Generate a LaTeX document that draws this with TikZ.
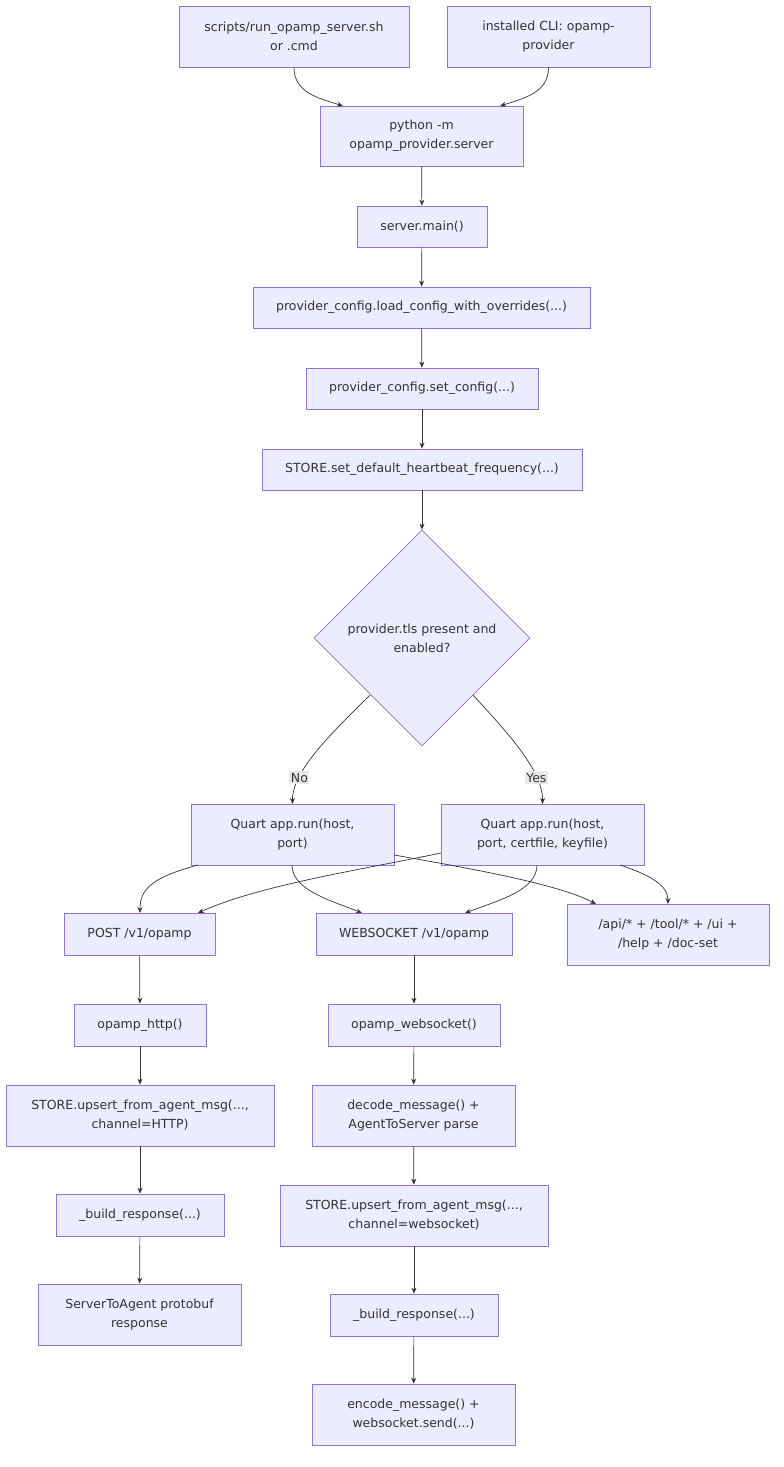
\documentclass[tikz,border=0pt]{standalone}
\usepackage{fontspec}
\setmainfont{DejaVu Sans}
\usetikzlibrary{shapes.geometric,arrows.meta}
\definecolor{nfill}{HTML}{ECECFF}
\definecolor{nline}{HTML}{9370DB}
\definecolor{txt}{HTML}{333333}
\begin{document}
\begin{tikzpicture}[x=1pt,y=-1pt,
  box/.style={draw=nline,fill=nfill,line width=0.8pt,text=txt,align=center,inner sep=0pt,
    font=\fontsize{12.5}{19}\selectfont},
  edge/.style={draw=txt,line width=0.7pt,-{Stealth[length=6pt,width=5pt]}},
  lab/.style={fill=black!9,text=txt,inner sep=1.5pt,font=\fontsize{12.5}{15}\selectfont}]
\useasboundingbox (0,0) rectangle (784,1467);
\newcommand\bx[6]{\node[box,minimum width=#4,minimum height=#5] (#1) at (#2,#3) {#6};}
\bx{A}{294}{36.5}{230}{61}{scripts/run\_opamp\_server.sh\\or .cmd}
\bx{B}{548.5}{36.5}{203}{61}{installed CLI: opamp-\\provider}
\bx{C}{421.5}{136}{203}{60}{python -m\\opamp\_provider.server}
\bx{D}{422}{226.5}{130}{41}{server.main()}
\bx{E}{421.5}{307.5}{337}{41}{provider\_config.load\_config\_with\_overrides(...)}
\bx{F}{422}{388.5}{232}{41}{provider\_config.set\_config(...)}
\bx{G}{422}{469.5}{320}{41}{STORE.set\_default\_heartbeat\_frequency(...)}
\node[box,diamond,minimum width=216,minimum height=216,aspect=1] (H) at (422,638) {provider.tls present and\\enabled?};
\bx{Q1}{292.5}{834.5}{203}{61}{Quart app.run(host,\\port)}
\bx{Q2}{542.5}{834.5}{203}{61}{Quart app.run(host,\\port, certfile, keyfile)}
\bx{P}{139.5}{934}{151}{42}{POST /v1/opamp}
\bx{W}{414}{934}{196}{42}{WEBSOCKET /v1/opamp}
\bx{API}{668}{934.5}{202}{61}{/api/* + /tool/* + /ui +\\/help + /doc-set}
\bx{P2}{140}{1025}{132}{42}{opamp\_http()}
\bx{P3}{140}{1115.5}{268}{61}{STORE.upsert\_from\_agent\_msg(...,\\channel=HTTP)}
\bx{P4}{140}{1215}{168}{42}{\_build\_response(...)}
\bx{P5}{139.5}{1314.5}{203}{61}{ServerToAgent protobuf\\response}
\bx{W2}{414}{1025}{172}{42}{opamp\_websocket()}
\bx{W3}{413.5}{1115.5}{203}{61}{decode\_message() +\\AgentToServer parse}
\bx{W4}{414}{1215.5}{268}{61}{STORE.upsert\_from\_agent\_msg(...,\\channel=websocket)}
\bx{W5}{414}{1315}{168}{42}{\_build\_response(...)}
\bx{W6}{413.5}{1414.5}{203}{61}{encode\_message() +\\websocket.send(...)}
\draw[edge] (A.south) .. controls +(0,25) and +(-25,-8) .. (343,106);
\draw[edge] (B.south) .. controls +(0,25) and +(25,-8) .. (500,106);
\foreach \a/\b in {C/D,D/E,E/F,F/G,G/H,P/P2,P2/P3,P3/P4,P4/P5,W/W2,W2/W3,W3/W4,W4/W5,W5/W6}
  \draw[edge] (\a) -- (\b);
\draw[edge] (370,695) .. controls (335,730) and (292,770) .. (292.5,804) node[lab,pos=0.75] {No};
\draw[edge] (473,695) .. controls (505,730) and (543,770) .. (542.5,804) node[lab,pos=0.75] {Yes};
\draw[edge] (198,865) .. controls (150,878) and (140,890) .. (140,913);
\draw[edge] (292,865) .. controls (292,890) and (330,900) .. (362,913);
\draw[edge] (394,855) .. controls (480,870) and (560,885) .. (596,904);
\draw[edge] (441,853) .. controls (360,870) and (260,885) .. (198,913);
\draw[edge] (537,865) .. controls (537,890) and (500,900) .. (465,913);
\draw[edge] (620,865) .. controls (650,875) and (668,885) .. (668,904);
\end{tikzpicture}
\end{document}
